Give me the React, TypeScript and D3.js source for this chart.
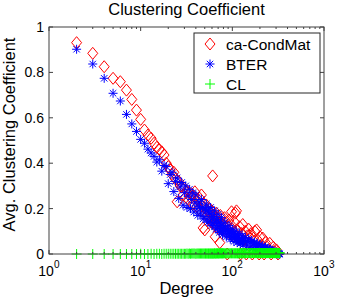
import React from "react";
import * as d3 from "d3";

// ca-CondMat: average clustering coefficient per degree
const degreeCondMat = [
  2, 3, 4, 5, 6, 7, 8, 9, 10, 11, 12, 13, 14, 15, 16, 17, 18, 19, 20, 21, 22, 23, 24, 25, 26, 27, 28, 29, 30,
  31, 32, 33, 34, 35, 36, 37, 38, 39, 40, 41, 42, 43, 44, 45, 46, 47, 48, 49, 50, 51, 52, 53, 54, 55, 56, 57,
  58, 59, 60, 61, 62, 63, 64, 65, 66, 67, 68, 70, 72, 73, 74, 76, 78, 80, 82, 84, 86, 88, 90, 92, 94, 96, 98,
  100, 103, 106, 108, 111, 114, 117, 120, 123, 126, 130, 134, 138, 142, 146, 150, 155, 160, 165, 170, 176,
  184, 190, 196, 200, 208, 215, 222, 230, 240, 256, 265, 280, 290, 303, 315,
];
const ccCondMat = [
  0.931, 0.884, 0.825, 0.774, 0.759, 0.722, 0.681, 0.634, 0.593, 0.546, 0.524, 0.51, 0.488, 0.47, 0.46, 0.45,
  0.436, 0.4, 0.385, 0.37, 0.35, 0.36, 0.33, 0.23, 0.32, 0.3, 0.296, 0.26, 0.29,
  0.25, 0.275, 0.24, 0.27, 0.25, 0.262, 0.22, 0.255, 0.274, 0.235, 0.21, 0.24, 0.2, 0.246, 0.19, 0.26, 0.21,
  0.115, 0.22, 0.106, 0.2, 0.216, 0.17, 0.19, 0.16, 0.2, 0.15,
  0.18, 0.14, 0.19, 0.344, 0.16, 0.13, 0.17, 0.076, 0.15, 0.18, 0.12, 0.16, 0.14, 0.05, 0.17, 0.11, 0.15, 0.13,
  0.16, 0.1, 0.14, 0.0, 0.12, 0.15, 0.09, 0.13, 0.186,
  0.11, 0.08, 0.14, 0.18, 0.19, 0.1, 0.07, 0.12, 0.0, 0.09, 0.13, 0.06, 0.1, 0.0, 0.08, 0.11, 0.05, 0.09, 0.0,
  0.07, 0.1,
  0.106, 0.06, 0.0, 0.076, 0.04, 0.07, 0.0, 0.05, 0.03, 0.047, 0.0, 0.03, 0.01, 0.018, 0.0,
];

// BTER model
const degreeBter = [
  2, 3, 4, 5, 6, 7, 8, 9, 10, 11, 12, 13, 14, 15, 16, 17, 18, 19, 20, 21, 22, 23, 24, 25, 26, 27, 28, 29, 30,
  31, 32, 33, 34, 35, 36, 37, 38, 39, 40,
  42, 44, 46, 48, 50, 52, 54, 56, 58, 60, 62, 64, 66, 68, 70, 72, 74, 76, 78, 80,
  83, 86, 89, 92, 95, 98, 101, 104, 107, 110, 113, 116, 119, 122, 125, 128, 131,
  135, 139, 143, 147, 151, 155, 159, 163, 167, 171, 175, 179, 183, 187, 191, 195,
  200, 205, 210, 215, 220, 225, 230, 235, 240, 245, 250, 255, 260, 265, 270, 275, 280, 285, 290, 295, 300,
  305, 310, 315, 320, 325, 330,
  41, 43, 45, 47, 49, 51, 53, 55, 57, 59, 61, 63, 65, 67, 69, 71, 73, 75, 77, 79,
  81, 84, 87, 90, 93, 96, 99, 102, 105, 108, 111, 114, 117, 120, 123, 126, 129,
];
const ccBter = [
  0.902, 0.837, 0.774, 0.708, 0.674, 0.615, 0.573, 0.54, 0.505, 0.488, 0.462, 0.445, 0.43, 0.405,
  0.415, 0.365, 0.39, 0.385, 0.31, 0.35, 0.36, 0.275, 0.32, 0.335, 0.245, 0.295, 0.315, 0.215, 0.27, 0.3,
  0.205, 0.255, 0.285, 0.2, 0.24, 0.27, 0.185, 0.225, 0.26,
  0.17, 0.21, 0.24, 0.155, 0.195, 0.22, 0.14, 0.18, 0.205, 0.125, 0.165, 0.19, 0.11, 0.15, 0.175, 0.095, 0.135,
  0.16, 0.085, 0.12,
  0.14, 0.075, 0.105, 0.125, 0.065, 0.095, 0.11, 0.055, 0.085, 0.1, 0.05, 0.075, 0.09, 0.045, 0.068, 0.08, 0.04,
  0.06, 0.072, 0.035, 0.055, 0.065, 0.03, 0.05, 0.058, 0.026, 0.045, 0.052, 0.022, 0.04, 0.046, 0.018, 0.036,
  0.042, 0.015, 0.032, 0.036, 0.012, 0.028, 0.03, 0.01, 0.024, 0.025, 0.008, 0.02, 0.02, 0.006, 0.015, 0.014,
  0.004, 0.01, 0.009, 0.002, 0.006, 0.005, 0.0, 0.003, 0.002, 0.0, 0.0,
  0.2, 0.23, 0.18, 0.205, 0.165, 0.2, 0.155, 0.19, 0.145, 0.175, 0.135, 0.16, 0.125, 0.15, 0.115, 0.14, 0.105,
  0.125, 0.1, 0.11,
  0.1, 0.115, 0.09, 0.105, 0.08, 0.1, 0.075, 0.09, 0.07, 0.08, 0.065, 0.07, 0.06, 0.065, 0.055, 0.06, 0.05,
];

// Chung-Lu model
const degreeCl = [
  2, 3, 4, 5, 6, 7, 8, 9, 10, 11, 12, 13, 14, 15, 16, 17, 18, 19, 20, 21, 22, 23, 24, 25, 26, 27, 28, 29, 30,
  31, 32, 33, 34, 35, 36, 37, 38, 39, 40, 41, 42, 43, 44, 45, 46, 47, 48, 49, 50, 51, 52, 53, 54, 55, 56, 57,
  58, 59, 60, 61, 62, 63, 64, 65, 66, 67, 68, 69, 70, 71, 72, 73, 74, 75, 76, 77, 78, 79, 80,
  82, 84, 86, 88, 90, 92, 94, 96, 98, 100, 102, 104, 106, 108, 110, 112, 114, 116, 118, 120, 122, 124, 126,
  128, 130,
  133, 136, 139, 142, 145, 148, 151, 154, 157, 160, 163, 166, 169, 172, 175, 178, 181, 184, 187, 190, 193,
  196, 199, 202, 205, 208, 211, 214, 217, 220, 223, 226, 229, 232, 235, 238, 241, 244, 247, 250, 253, 256,
  259, 262, 265, 268, 271, 274, 277, 280, 283, 286, 289, 292, 295, 298, 301, 304, 307, 310, 313, 316, 319,
  322, 325, 328, 331,
];
const ccCl = [
  0, 0, 0, 0, 0, 0, 0, 0, 0.001, 0,
  0, 0.001, 0, 0.001, 0.001, 0, 0.001, 0.001, 0.001, 0.001,
  0.001, 0.001, 0.001, 0.001, 0.001, 0.001, 0.001, 0.001, 0.001, 0.001,
  0.002, 0.001, 0.002, 0.001, 0.002, 0.002, 0.002, 0.002, 0.001, 0.002,
  0.002, 0.002, 0.002, 0.002, 0.002, 0.002, 0.002, 0.002, 0.002, 0.002,
  0.002, 0.002, 0.002, 0.002, 0.002, 0.002, 0.002, 0.002, 0.002, 0.002,
  0.002, 0.002, 0.003, 0.002, 0.002, 0.003, 0.002, 0.003, 0.003, 0.002,
  0.003, 0.003, 0.003, 0.003, 0.003, 0.003, 0.003, 0.003, 0.003,
  0.003, 0.003, 0.003, 0.003, 0.003, 0.003, 0.003, 0.003, 0.003, 0.003,
  0.003, 0.003, 0.003, 0.003, 0.003, 0.003, 0.003, 0.003, 0.003, 0.003,
  0.003, 0.004, 0.003, 0.004, 0.003,
  0.004, 0.004, 0.003, 0.004, 0.004, 0.004, 0.004, 0.004, 0.004, 0.004,
  0.004, 0.004, 0.004, 0.004, 0.004, 0.004, 0.004, 0.004, 0.004, 0.004,
  0.004, 0.004, 0.004, 0.004, 0.004, 0.004, 0.004, 0.004, 0.004, 0.004,
  0.004, 0.004, 0.004, 0.004, 0.004, 0.004, 0.004, 0.004, 0.004, 0.004,
  0.004, 0.004, 0.004, 0.004, 0.004, 0.004, 0.004, 0.004, 0.004, 0.004,
  0.004, 0.004, 0.004, 0.004, 0.004, 0.004, 0.004, 0.004, 0.004, 0.004,
  0.004, 0.004, 0.004, 0.004, 0.004, 0.004, 0.004,
];

const yTicks = [0, 0.2, 0.4, 0.6, 0.8, 1];
const yTickLabels = ["0", "0.2", "0.4", "0.6", "0.8", "1"];
const xMajor = [1, 10, 100, 1000];
const xExponents = ["0", "1", "2", "3"];
const legendNames = ["ca-CondMat", "BTER", "CL"];

const W = 359;
const H = 299;
const margin = { top: 27, right: 35, bottom: 45, left: 49 };
const font = "'Liberation Sans', Arial, Helvetica, sans-serif";
const axisColor = "#404040";

const diamond = "M0,-6L5,0L0,6L-5,0Z";
const star = "M-4.5,0H4.5M0,-4.5V4.5M-3.2,-3.2L3.2,3.2M-3.2,3.2L3.2,-3.2";
const plus = "M-5,0H5M0,-5V5";

const App = () => {
  const x = d3.scaleLog().domain([1, 1000]).range([margin.left, W - margin.right]);
  const y = d3.scaleLinear().domain([0, 1]).range([H - margin.bottom, margin.top]);

  const x0 = margin.left;
  const x1 = W - margin.right;
  const y0 = H - margin.bottom;
  const y1 = margin.top;

  const minor: number[] = [];
  [1, 10, 100].forEach((p) => {
    for (let k = 2; k <= 9; k++) minor.push(p * k);
  });

  const series = [
    { name: legendNames[0], deg: degreeCondMat, cc: ccCondMat, path: diamond, color: "#ff0000" },
    { name: legendNames[1], deg: degreeBter, cc: ccBter, path: star, color: "#0000ff" },
    { name: legendNames[2], deg: degreeCl, cc: ccCl, path: plus, color: "#00ff00" },
  ];

  return (
    <svg
      width={W}
      height={H}
      style={{ position: "absolute", left: 0, top: 0, background: "#fff" }}
      fontFamily={font}
    >
      <text x={(x0 + x1) / 2} y={15} textAnchor="middle" fontSize={16.5}>
        Clustering Coefficient
      </text>

      {/* data */}
      {series.map((s) => (
        <g key={s.name} fill="none" stroke={s.color} strokeWidth={1}>
          {s.deg.map((d, i) => (
            <path key={i} d={s.path} transform={`translate(${x(d)},${y(s.cc[i])})`} />
          ))}
        </g>
      ))}

      {/* axes box */}
      <rect x={x0} y={y1} width={x1 - x0} height={y0 - y1} fill="none" stroke={axisColor} strokeWidth={1} />

      {yTicks.map((t, i) => (
        <g key={t}>
          <line x1={x0} x2={x0 + 4} y1={y(t)} y2={y(t)} stroke={axisColor} />
          <line x1={x1} x2={x1 - 4} y1={y(t)} y2={y(t)} stroke={axisColor} />
          <text x={44} y={y(t) + 5} textAnchor="end" fontSize={14}>
            {yTickLabels[i]}
          </text>
        </g>
      ))}

      {xMajor.map((t, i) => (
        <g key={t}>
          <line x1={x(t)} x2={x(t)} y1={y0} y2={y0 - 4} stroke={axisColor} />
          <line x1={x(t)} x2={x(t)} y1={y1} y2={y1 + 4} stroke={axisColor} />
          <text x={x(t) - 3} y={276} textAnchor="middle" fontSize={14}>
            10
          </text>
          <text x={x(t) + 5} y={268} textAnchor="start" fontSize={10}>
            {xExponents[i]}
          </text>
        </g>
      ))}
      {minor.map((t) => (
        <g key={t}>
          <line x1={x(t)} x2={x(t)} y1={y0} y2={y0 - 2} stroke={axisColor} />
          <line x1={x(t)} x2={x(t)} y1={y1} y2={y1 + 2} stroke={axisColor} />
        </g>
      ))}

      <text x={(x0 + x1) / 2} y={294} textAnchor="middle" fontSize={16.5}>
        Degree
      </text>
      <text
        transform={`translate(15,${(y0 + y1) / 2 - 6}) rotate(-90)`}
        textAnchor="middle"
        fontSize={16.5}
      >
        Avg. Clustering Coefficient
      </text>

      {/* legend */}
      <g>
        <rect x={194} y={33} width={126} height={60} fill="#fff" stroke="#262626" strokeWidth={1} />
        {series.map((s, i) => (
          <g key={s.name} transform={`translate(0,${44 + i * 20})`}>
            <path d={s.path} transform="translate(210,0)" fill="none" stroke={s.color} />
            <text x={226} y={5.5} fontSize={15.5}>
              {s.name}
            </text>
          </g>
        ))}
      </g>
    </svg>
  );
};

export default App;
